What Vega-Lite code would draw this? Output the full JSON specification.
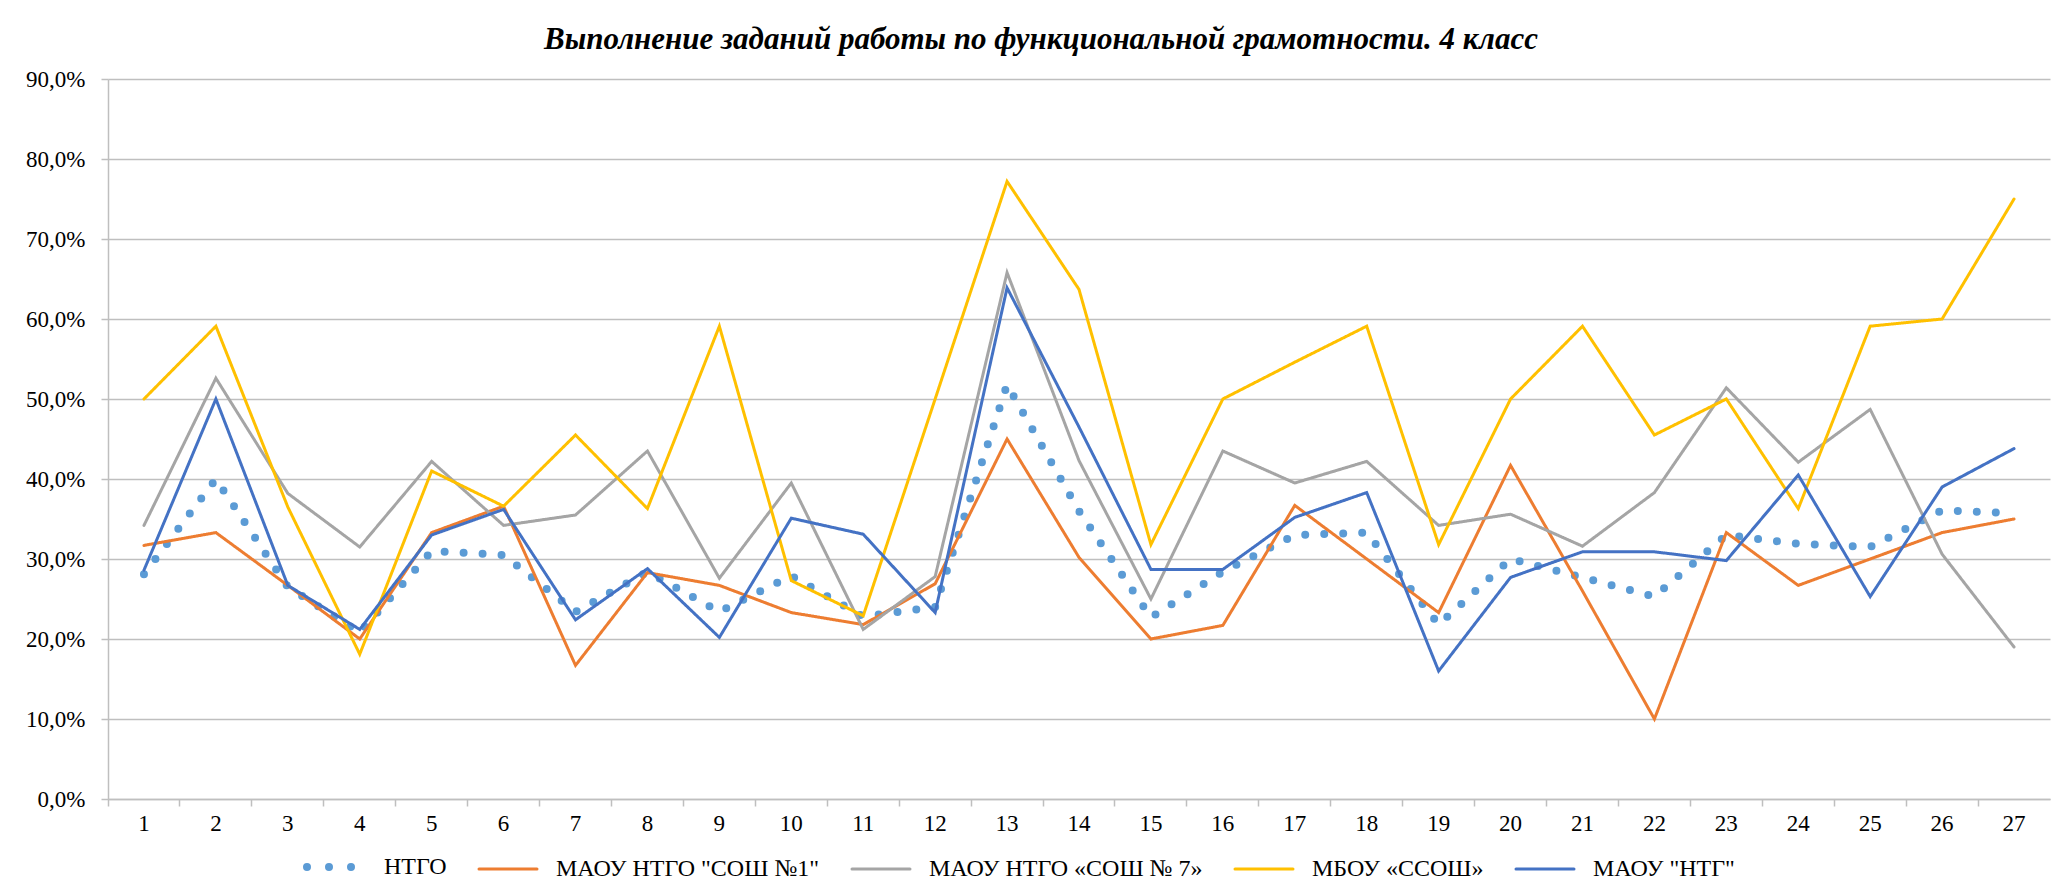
{
  "$schema": "https://vega.github.io/schema/vega-lite/v6.json",
  "width": 1942,
  "height": 720,
  "autosize": {"type": "none"},
  "padding": {"left": 108, "top": 79, "right": 17, "bottom": 92},
  "background": "white",
  "config": {
    "view": {"stroke": null},
    "locale": {"number": {"decimal": ",", "thousands": " ", "grouping": [3], "currency": ["", " ₽"]}}
  },
  "title": {
    "text": "Выполнение заданий работы по функциональной грамотности. 4 класс",
    "font": "Liberation Serif",
    "fontSize": 31,
    "fontStyle": "italic",
    "fontWeight": "bold",
    "color": "black",
    "anchor": "middle",
    "dx": -38,
    "offset": 12
  },
  "data": {"values": [
    {"q":1,"s":"НТГО","v":0.281},{"q":2,"s":"НТГО","v":0.400},{"q":3,"s":"НТГО","v":0.265},{"q":4,"s":"НТГО","v":0.208},{"q":5,"s":"НТГО","v":0.310},{"q":6,"s":"НТГО","v":0.305},{"q":7,"s":"НТГО","v":0.234},{"q":8,"s":"НТГО","v":0.284},{"q":9,"s":"НТГО","v":0.234},{"q":10,"s":"НТГО","v":0.279},{"q":11,"s":"НТГО","v":0.228},{"q":12,"s":"НТГО","v":0.240},{"q":13,"s":"НТГО","v":0.518},{"q":14,"s":"НТГО","v":0.360},{"q":15,"s":"НТГО","v":0.227},{"q":16,"s":"НТГО","v":0.284},{"q":17,"s":"НТГО","v":0.330},{"q":18,"s":"НТГО","v":0.333},{"q":19,"s":"НТГО","v":0.218},{"q":20,"s":"НТГО","v":0.300},{"q":21,"s":"НТГО","v":0.277},{"q":22,"s":"НТГО","v":0.253},{"q":23,"s":"НТГО","v":0.330},{"q":24,"s":"НТГО","v":0.319},{"q":25,"s":"НТГО","v":0.315},{"q":26,"s":"НТГО","v":0.361},{"q":27,"s":"НТГО","v":0.357},
    {"q":1,"s":"МАОУ НТГО \"СОШ №1\"","v":0.317},{"q":2,"s":"МАОУ НТГО \"СОШ №1\"","v":0.333},{"q":3,"s":"МАОУ НТГО \"СОШ №1\"","v":0.267},{"q":4,"s":"МАОУ НТГО \"СОШ №1\"","v":0.200},{"q":5,"s":"МАОУ НТГО \"СОШ №1\"","v":0.333},{"q":6,"s":"МАОУ НТГО \"СОШ №1\"","v":0.366},{"q":7,"s":"МАОУ НТГО \"СОШ №1\"","v":0.167},{"q":8,"s":"МАОУ НТГО \"СОШ №1\"","v":0.283},{"q":9,"s":"МАОУ НТГО \"СОШ №1\"","v":0.267},{"q":10,"s":"МАОУ НТГО \"СОШ №1\"","v":0.233},{"q":11,"s":"МАОУ НТГО \"СОШ №1\"","v":0.218},{"q":12,"s":"МАОУ НТГО \"СОШ №1\"","v":0.269},{"q":13,"s":"МАОУ НТГО \"СОШ №1\"","v":0.450},{"q":14,"s":"МАОУ НТГО \"СОШ №1\"","v":0.302},{"q":15,"s":"МАОУ НТГО \"СОШ №1\"","v":0.200},{"q":16,"s":"МАОУ НТГО \"СОШ №1\"","v":0.217},{"q":17,"s":"МАОУ НТГО \"СОШ №1\"","v":0.367},{"q":18,"s":"МАОУ НТГО \"СОШ №1\"","v":0.300},{"q":19,"s":"МАОУ НТГО \"СОШ №1\"","v":0.233},{"q":20,"s":"МАОУ НТГО \"СОШ №1\"","v":0.417},{"q":21,"s":"МАОУ НТГО \"СОШ №1\"","v":0.260},{"q":22,"s":"МАОУ НТГО \"СОШ №1\"","v":0.100},{"q":23,"s":"МАОУ НТГО \"СОШ №1\"","v":0.333},{"q":24,"s":"МАОУ НТГО \"СОШ №1\"","v":0.267},{"q":25,"s":"МАОУ НТГО \"СОШ №1\"","v":0.300},{"q":26,"s":"МАОУ НТГО \"СОШ №1\"","v":0.333},{"q":27,"s":"МАОУ НТГО \"СОШ №1\"","v":0.350},
    {"q":1,"s":"МАОУ НТГО «СОШ № 7»","v":0.342},{"q":2,"s":"МАОУ НТГО «СОШ № 7»","v":0.526},{"q":3,"s":"МАОУ НТГО «СОШ № 7»","v":0.382},{"q":4,"s":"МАОУ НТГО «СОШ № 7»","v":0.315},{"q":5,"s":"МАОУ НТГО «СОШ № 7»","v":0.422},{"q":6,"s":"МАОУ НТГО «СОШ № 7»","v":0.342},{"q":7,"s":"МАОУ НТГО «СОШ № 7»","v":0.355},{"q":8,"s":"МАОУ НТГО «СОШ № 7»","v":0.435},{"q":9,"s":"МАОУ НТГО «СОШ № 7»","v":0.276},{"q":10,"s":"МАОУ НТГО «СОШ № 7»","v":0.395},{"q":11,"s":"МАОУ НТГО «СОШ № 7»","v":0.212},{"q":12,"s":"МАОУ НТГО «СОШ № 7»","v":0.278},{"q":13,"s":"МАОУ НТГО «СОШ № 7»","v":0.658},{"q":14,"s":"МАОУ НТГО «СОШ № 7»","v":0.423},{"q":15,"s":"МАОУ НТГО «СОШ № 7»","v":0.250},{"q":16,"s":"МАОУ НТГО «СОШ № 7»","v":0.435},{"q":17,"s":"МАОУ НТГО «СОШ № 7»","v":0.395},{"q":18,"s":"МАОУ НТГО «СОШ № 7»","v":0.422},{"q":19,"s":"МАОУ НТГО «СОШ № 7»","v":0.342},{"q":20,"s":"МАОУ НТГО «СОШ № 7»","v":0.356},{"q":21,"s":"МАОУ НТГО «СОШ № 7»","v":0.316},{"q":22,"s":"МАОУ НТГО «СОШ № 7»","v":0.383},{"q":23,"s":"МАОУ НТГО «СОШ № 7»","v":0.514},{"q":24,"s":"МАОУ НТГО «СОШ № 7»","v":0.421},{"q":25,"s":"МАОУ НТГО «СОШ № 7»","v":0.487},{"q":26,"s":"МАОУ НТГО «СОШ № 7»","v":0.306},{"q":27,"s":"МАОУ НТГО «СОШ № 7»","v":0.190},
    {"q":1,"s":"МБОУ «ССОШ»","v":0.500},{"q":2,"s":"МБОУ «ССОШ»","v":0.591},{"q":3,"s":"МБОУ «ССОШ»","v":0.365},{"q":4,"s":"МБОУ «ССОШ»","v":0.181},{"q":5,"s":"МБОУ «ССОШ»","v":0.410},{"q":6,"s":"МБОУ «ССОШ»","v":0.366},{"q":7,"s":"МБОУ «ССОШ»","v":0.455},{"q":8,"s":"МБОУ «ССОШ»","v":0.363},{"q":9,"s":"МБОУ «ССОШ»","v":0.591},{"q":10,"s":"МБОУ «ССОШ»","v":0.273},{"q":11,"s":"МБОУ «ССОШ»","v":0.229},{"q":12,"s":"МБОУ «ССОШ»","v":0.500},{"q":13,"s":"МБОУ «ССОШ»","v":0.772},{"q":14,"s":"МБОУ «ССОШ»","v":0.637},{"q":15,"s":"МБОУ «ССОШ»","v":0.318},{"q":16,"s":"МБОУ «ССОШ»","v":0.500},{"q":17,"s":"МБОУ «ССОШ»","v":0.546},{"q":18,"s":"МБОУ «ССОШ»","v":0.591},{"q":19,"s":"МБОУ «ССОШ»","v":0.318},{"q":20,"s":"МБОУ «ССОШ»","v":0.500},{"q":21,"s":"МБОУ «ССОШ»","v":0.591},{"q":22,"s":"МБОУ «ССОШ»","v":0.455},{"q":23,"s":"МБОУ «ССОШ»","v":0.500},{"q":24,"s":"МБОУ «ССОШ»","v":0.363},{"q":25,"s":"МБОУ «ССОШ»","v":0.591},{"q":26,"s":"МБОУ «ССОШ»","v":0.600},{"q":27,"s":"МБОУ «ССОШ»","v":0.750},
    {"q":1,"s":"МАОУ \"НТГ\"","v":0.286},{"q":2,"s":"МАОУ \"НТГ\"","v":0.500},{"q":3,"s":"МАОУ \"НТГ\"","v":0.267},{"q":4,"s":"МАОУ \"НТГ\"","v":0.212},{"q":5,"s":"МАОУ \"НТГ\"","v":0.330},{"q":6,"s":"МАОУ \"НТГ\"","v":0.362},{"q":7,"s":"МАОУ \"НТГ\"","v":0.224},{"q":8,"s":"МАОУ \"НТГ\"","v":0.288},{"q":9,"s":"МАОУ \"НТГ\"","v":0.202},{"q":10,"s":"МАОУ \"НТГ\"","v":0.351},{"q":11,"s":"МАОУ \"НТГ\"","v":0.331},{"q":12,"s":"МАОУ \"НТГ\"","v":0.233},{"q":13,"s":"МАОУ \"НТГ\"","v":0.639},{"q":14,"s":"МАОУ \"НТГ\"","v":0.465},{"q":15,"s":"МАОУ \"НТГ\"","v":0.287},{"q":16,"s":"МАОУ \"НТГ\"","v":0.287},{"q":17,"s":"МАОУ \"НТГ\"","v":0.352},{"q":18,"s":"МАОУ \"НТГ\"","v":0.383},{"q":19,"s":"МАОУ \"НТГ\"","v":0.160},{"q":20,"s":"МАОУ \"НТГ\"","v":0.277},{"q":21,"s":"МАОУ \"НТГ\"","v":0.309},{"q":22,"s":"МАОУ \"НТГ\"","v":0.309},{"q":23,"s":"МАОУ \"НТГ\"","v":0.298},{"q":24,"s":"МАОУ \"НТГ\"","v":0.405},{"q":25,"s":"МАОУ \"НТГ\"","v":0.253},{"q":26,"s":"МАОУ \"НТГ\"","v":0.390},{"q":27,"s":"МАОУ \"НТГ\"","v":0.438}
  ]},
  "mark": {"type": "line", "strokeCap": "round"},
  "encoding": {
    "x": {
      "field": "q",
      "type": "ordinal",
      "bandPosition": 0.5,
      "scale": {"type": "band", "paddingInner": 0, "paddingOuter": 0},
      "axis": {
        "title": null,
        "labelAngle": 0,
        "bandPosition": 0,
        "tickSize": 7,
        "tickColor": "#bfbfbf",
        "tickWidth": 1.5,
        "domainColor": "#bfbfbf",
        "domainWidth": 1.5,
        "labelFont": "Liberation Serif",
        "labelFontSize": 23,
        "labelColor": "black",
        "labelPadding": 6,
        "grid": false
      }
    },
    "y": {
      "field": "v",
      "type": "quantitative",
      "scale": {"domain": [0, 0.9]},
      "axis": {
        "title": null,
        "values": [0, 0.1, 0.2, 0.3, 0.4, 0.5, 0.6, 0.7, 0.8, 0.9],
        "format": ".1%",
        "tickSize": 7,
        "tickColor": "#bfbfbf",
        "tickWidth": 1.5,
        "domainColor": "#bfbfbf",
        "domainWidth": 1.5,
        "gridColor": "#bfbfbf",
        "gridWidth": 1.5,
        "labelFont": "Liberation Serif",
        "labelFontSize": 23,
        "labelColor": "black",
        "labelPadding": 16
      }
    },
    "color": {
      "field": "s",
      "type": "nominal",
      "scale": {
        "domain": ["НТГО", "МАОУ НТГО \"СОШ №1\"", "МАОУ НТГО «СОШ № 7»", "МБОУ «ССОШ»", "МАОУ \"НТГ\""],
        "range": ["#5B9BD5", "#ED7D31", "#A5A5A5", "#FFC000", "#4472C4"]
      },
      "legend": {
        "title": null,
        "orient": "none",
        "legendX": 199,
        "legendY": 776,
        "direction": "horizontal",
        "columns": 5,
        "columnPadding": 26,
        "symbolType": "stroke",
        "symbolSize": 3364,
        "symbolStrokeWidth": 3,
        "symbolOffset": 17,
        "labelFont": "Liberation Serif",
        "labelFontSize": 24,
        "labelColor": "black",
        "labelOffset": 36,
        "labelLimit": 500,
        "encode": {
          "symbols": {
            "update": {
              "strokeDash": {"signal": "datum.value === 'НТГО' ? [0, 22] : [1, 0]"},
              "strokeWidth": {"signal": "datum.value === 'НТГО' ? 8 : 3"},
              "strokeCap": {"value": "round"}
            }
          }
        }
      }
    },
    "strokeDash": {
      "condition": {"test": "datum.s === 'НТГО'", "value": [0, 19]},
      "value": [1, 0]
    },
    "strokeWidth": {
      "condition": {"test": "datum.s === 'НТГО'", "value": 8},
      "value": 3
    }
  }
}
